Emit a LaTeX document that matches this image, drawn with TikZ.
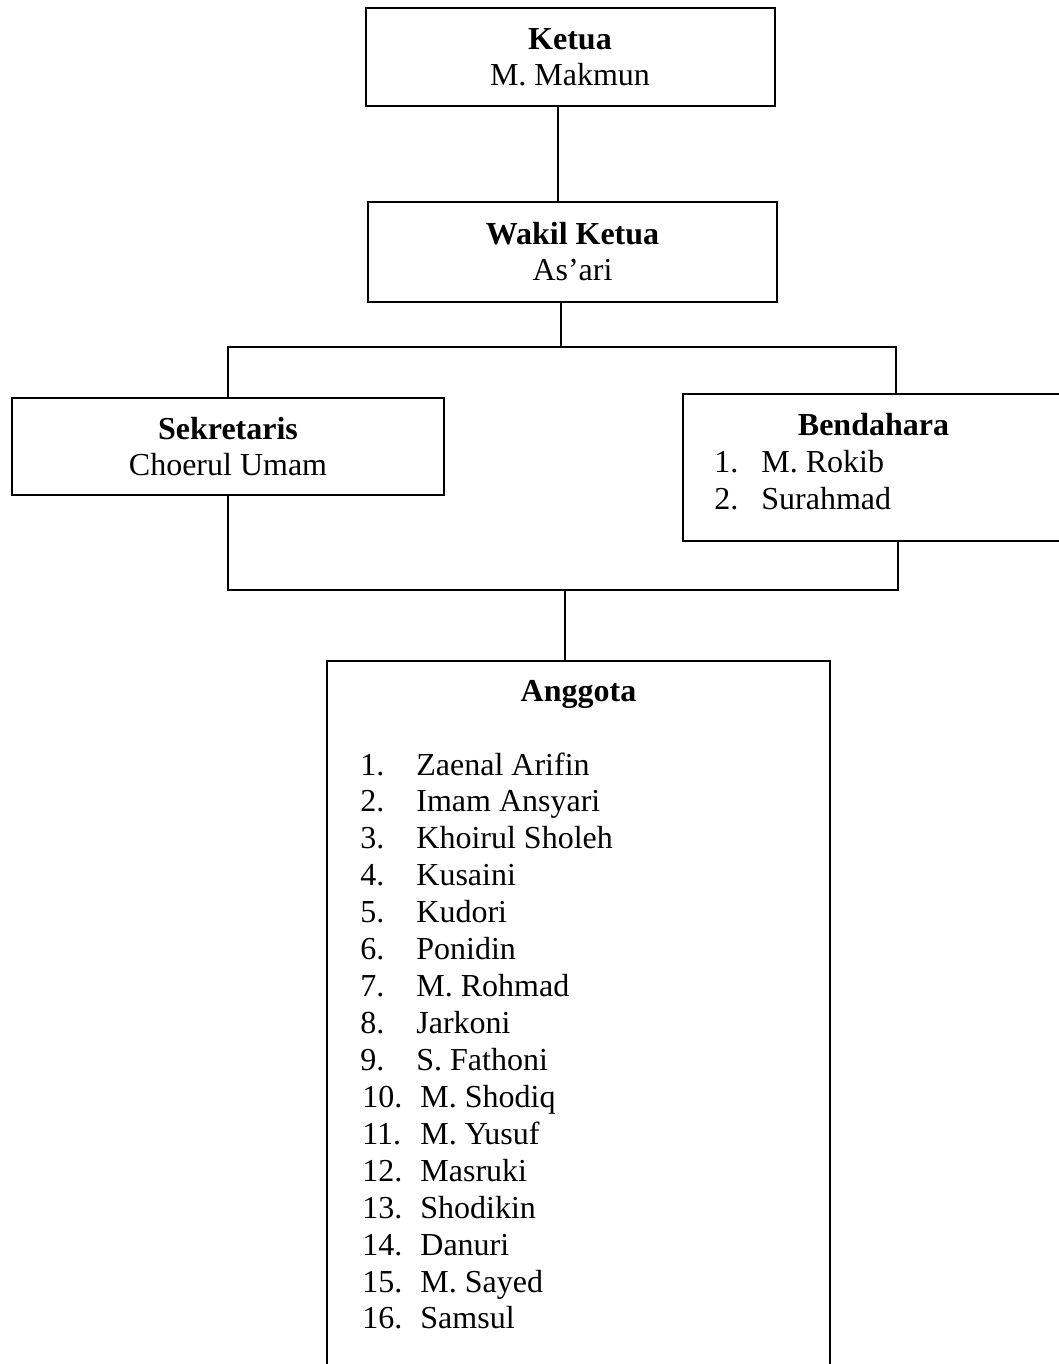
\documentclass[tikz,border=0pt]{standalone}
\usepackage{fontspec}
\setmainfont{Liberation Serif}
\usetikzlibrary{calc}

\begin{document}
\begin{tikzpicture}[x=0.5pt, y=-0.5pt,
		kotak/.style={draw, line width=1pt, inner sep=0pt, align=center, font=\fontsize{16}{18}\selectfont},
		teks/.style={inner sep=0pt, anchor=base west, font=\fontsize{16}{18}\selectfont},
		garis/.style={line width=1pt}]
			%%%%% START %%%%%
			\useasboundingbox (0,0) rectangle (1059,1364);
			
			\node[kotak, minimum width=204.5pt, minimum height=49pt] (ketua) at (570,57) {\textbf{Ketua}\\M. Makmun};
			\node[kotak, minimum width=204.5pt, minimum height=50pt] (wakil) at (572.5,252) {\textbf{Wakil Ketua}\\As’ari};
			\node[kotak, minimum width=216pt, minimum height=48.5pt] (sekretaris) at (228,446.5) {\textbf{Sekretaris}\\Choerul Umam};
			
			% bendahara, kanan terpotong
			\node[kotak, minimum width=193pt, minimum height=73.5pt, anchor=north west] (bendahara) at (682,393) {};
			\node[teks, anchor=base] at (873.5,435) {\textbf{Bendahara}};
			\node[teks] at (714,472) {1.};
			\node[teks] at (761,472) {M. Rokib};
			\node[teks] at (714,509) {2.};
			\node[teks] at (761,509) {Surahmad};
			
			% anggota, bawah terpotong
			\node[kotak, minimum width=251.5pt, minimum height=370pt, anchor=north] (anggota) at (578.5,660) {};
			\node[teks, anchor=base] at (578.5,701) {\textbf{Anggota}};
			\foreach \n/\nama in {1/Zaenal Arifin, 2/Imam Ansyari, 3/Khoirul Sholeh, 4/Kusaini,
				5/Kudori, 6/Ponidin, 7/M. Rohmad, 8/Jarkoni, 9/S. Fathoni, 10/M. Shodiq,
				11/M. Yusuf, 12/Masruki, 13/Shodikin, 14/Danuri, 15/M. Sayed, 16/Samsul} {
				\pgfmathsetmacro\xno{\n<10 ? 360 : 362}
				\pgfmathsetmacro\xnama{\n<10 ? 416 : 420}
				\node[teks] (no\n) at (\xno, {775+36.93*(\n-1)}) {\n.};
				\node[teks] (nama\n) at (\xnama, {775+36.93*(\n-1)}) {\nama};
			}
			
			% garis penghubung
			\coordinate (baratas) at (896,347);
			\coordinate (barbawah) at (898,590);
			
			\draw[garis] ([xshift=-6pt]ketua.south) -- ([xshift=-6pt]ketua.south |- wakil.north);
			\draw[garis] ([xshift=-6pt]wakil.south) -- ([xshift=-6pt]wakil.south |- baratas);
			\draw[garis] (sekretaris.north) -- (sekretaris.north |- baratas) -- (baratas) -- (baratas |- bendahara.north);
			
			\draw[garis] (sekretaris.south) -- (sekretaris.south |- barbawah) -- (barbawah) -- (barbawah |- bendahara.south);
			\draw[garis] ([xshift=-6.75pt]anggota.north) -- ([xshift=-6.75pt]anggota.north |- barbawah);
			
			%%%%% END %%%%%
\end{tikzpicture}
\end{document}
